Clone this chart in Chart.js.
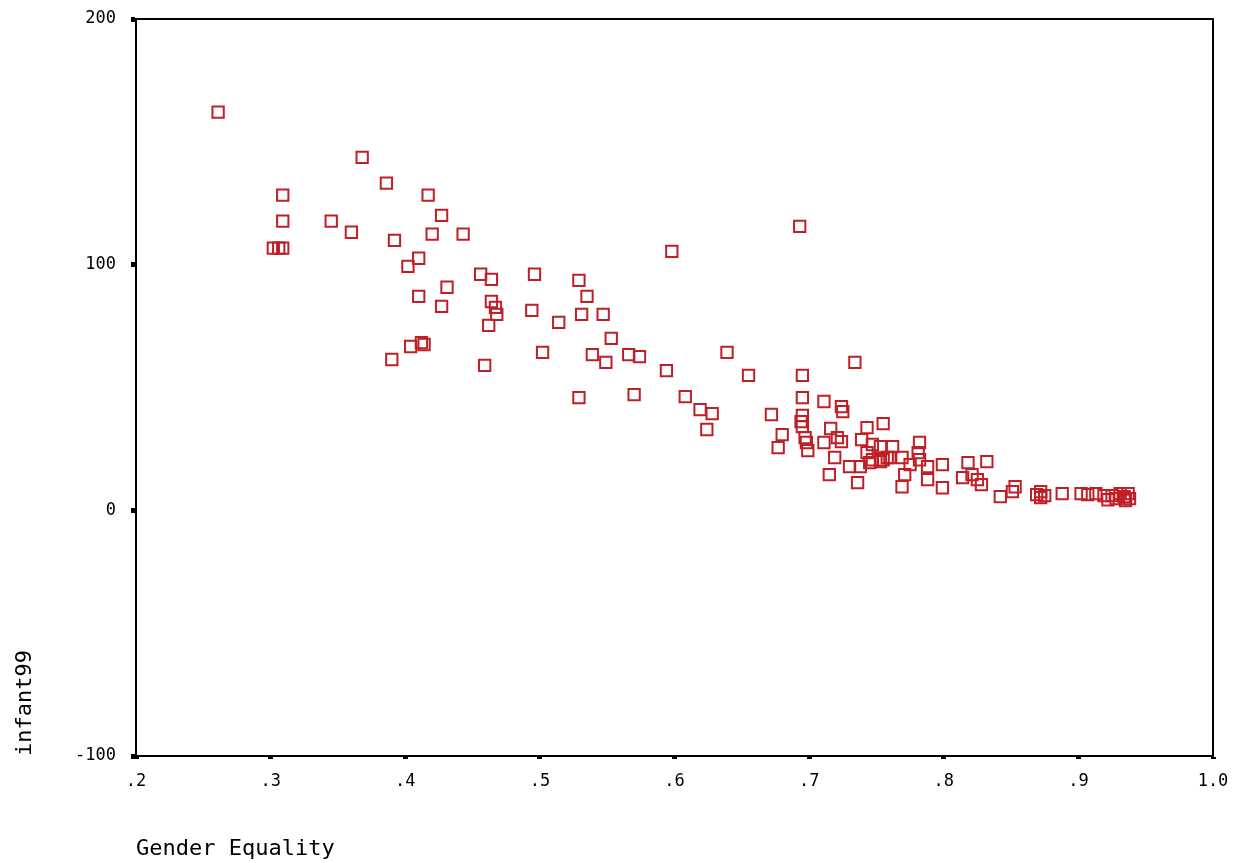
<!DOCTYPE html>
<html>
<head>
<meta charset="utf-8">
<script src="https://cdn.jsdelivr.net/npm/chart.js@4"></script>
<style>
  body { margin: 0; background: #fff; }
  #wrap { width: 1233px; height: 863px; }
</style>
</head>
<body>
<div id="wrap"><canvas id="scatterChart" width="1233" height="863"></canvas></div>
<script>
// Gender equality vs infant mortality (1999)
const genderEquality = [
  0.261, 0.309, 0.309, 0.302, 0.306, 0.309, 0.345, 0.360, 0.368, 0.386,
  0.392, 0.417, 0.427, 0.420, 0.443, 0.402, 0.410, 0.410, 0.431, 0.427,
  0.390, 0.404, 0.412, 0.414, 0.456, 0.464, 0.496, 0.529, 0.535, 0.464,
  0.467, 0.468, 0.462, 0.494, 0.514, 0.531, 0.547, 0.553, 0.502, 0.539,
  0.549, 0.566, 0.574, 0.639, 0.594, 0.459, 0.529, 0.570, 0.608, 0.619,
  0.628, 0.624, 0.598, 0.693, 0.655, 0.695, 0.734, 0.695, 0.672, 0.711,
  0.724, 0.725, 0.695, 0.694, 0.695, 0.680, 0.677, 0.697, 0.698, 0.699,
  0.716, 0.711, 0.721, 0.724, 0.719, 0.715, 0.743, 0.755, 0.739, 0.753,
  0.762, 0.743, 0.745, 0.753, 0.758, 0.730, 0.738, 0.736, 0.769, 0.782,
  0.781, 0.782, 0.775, 0.788, 0.771, 0.769, 0.788, 0.799, 0.799, 0.747,
  0.747, 0.755, 0.760, 0.814, 0.821, 0.825, 0.828, 0.818, 0.832, 0.842,
  0.851, 0.853, 0.869, 0.872, 0.875, 0.872, 0.888, 0.902, 0.907, 0.913,
  0.919, 0.922, 0.925, 0.928, 0.931, 0.934, 0.937, 0.938, 0.935
];

const infant99 = [
  162.1, 128.3, 117.7, 106.7, 106.7, 106.7, 117.7, 113.2, 143.7, 133.2,
  109.9, 128.3, 120.1, 112.4, 112.4, 99.3, 102.6, 87.1, 90.8, 83.0,
  61.4, 66.7, 68.3, 67.5, 96.1, 94.0, 96.1, 93.6, 87.1, 85.0,
  82.6, 79.8, 75.3, 81.4, 76.5, 79.8, 79.8, 70.0, 64.3, 63.4,
  60.2, 63.4, 62.6, 64.3, 56.9, 59.0, 45.9, 47.1, 46.3, 41.0,
  39.4, 32.9, 105.4, 115.6, 54.9, 54.9, 60.2, 45.9, 39.0, 44.3,
  42.2, 40.2, 38.6, 36.1, 34.1, 30.8, 25.5, 29.6, 27.6, 24.3,
  33.3, 27.6, 29.6, 28.0, 21.5, 14.5, 33.7, 35.3, 28.8, 25.9,
  25.9, 23.5, 19.4, 19.8, 21.5, 17.8, 17.8, 11.3, 21.5, 27.6,
  23.5, 20.6, 18.6, 17.8, 14.5, 9.6, 12.5, 18.6, 9.2, 26.8,
  20.6, 20.6, 21.5, 13.3, 14.5, 12.5, 10.5, 19.4, 19.8, 5.6,
  7.6, 9.6, 6.4, 7.6, 6.0, 5.2, 6.8, 6.8, 6.4, 6.8,
  6.0, 4.3, 6.0, 4.8, 6.8, 5.6, 6.8, 4.8, 4.0
];

const xTicks = { min: 0.2, max: 1.0, step: 0.1 };
const yTicks = { min: -100, max: 200, step: 100 };

const points = genderEquality.map((x, i) => ({ x: x, y: infant99[i] }));

// draws the top and right sides of the plot frame
const frameBox = {
  id: 'frameBox',
  afterDraw(chart) {
    const { ctx, chartArea } = chart;
    ctx.save();
    ctx.strokeStyle = '#000';
    ctx.lineWidth = 2;
    ctx.beginPath();
    ctx.moveTo(chartArea.left, chartArea.top);
    ctx.lineTo(chartArea.right, chartArea.top);
    ctx.lineTo(chartArea.right, chartArea.bottom);
    ctx.stroke();
    ctx.restore();
  }
};

const tickFont = { family: 'DejaVu Sans Mono', size: 17 };
const titleFont = { family: 'DejaVu Sans Mono', size: 22 };

new Chart(document.getElementById('scatterChart'), {
  type: 'scatter',
  data: {
    datasets: [{
      data: points,
      pointStyle: 'rect',
      radius: 8,
      hoverRadius: 8,
      borderWidth: 2,
      borderColor: '#bf1f27',
      backgroundColor: 'rgba(0,0,0,0)'
    }]
  },
  options: {
    responsive: false,
    animation: false,
    events: [],
    layout: { padding: { top: 19, right: 20, left: 0, bottom: 0 } },
    plugins: {
      legend: { display: false },
      tooltip: { enabled: false }
    },
    scales: {
      x: {
        type: 'linear',
        min: xTicks.min,
        max: xTicks.max,
        afterFit: (scale) => {
          scale.height = 107;
          scale.paddingLeft = 0;
          scale.paddingRight = 0;
        },
        border: { display: true, color: '#000', width: 2 },
        grid: {
          drawOnChartArea: false,
          tickLength: 3,
          tickWidth: 5,
          tickColor: '#000'
        },
        ticks: {
          stepSize: xTicks.step,
          padding: 12,
          color: '#000',
          font: tickFont,
          maxRotation: 0,
          callback: (v) => v >= 0.999 ? '1.0' : Number(v).toFixed(1).replace(/^0/, '')
        },
        title: {
          display: true,
          text: 'Gender Equality',
          align: 'start',
          color: '#000',
          font: titleFont,
          padding: { top: 0, bottom: 1 }
        }
      },
      y: {
        type: 'linear',
        min: yTicks.min,
        max: yTicks.max,
        afterFit: (scale) => {
          scale.width = 136;
          scale.paddingTop = 0;
          scale.paddingBottom = 0;
        },
        border: { display: true, color: '#000', width: 2 },
        grid: {
          drawOnChartArea: false,
          tickLength: 9,
          tickWidth: 5,
          tickColor: '#000',
          tickBorderDash: [0, 4, 5, 0]
        },
        ticks: {
          stepSize: yTicks.step,
          padding: 11,
          color: '#000',
          font: tickFont
        },
        title: {
          display: true,
          text: 'infant99',
          align: 'start',
          color: '#000',
          font: titleFont,
          padding: { top: 12, bottom: 0 }
        }
      }
    }
  },
  plugins: [frameBox]
});
</script>
</body>
</html>
